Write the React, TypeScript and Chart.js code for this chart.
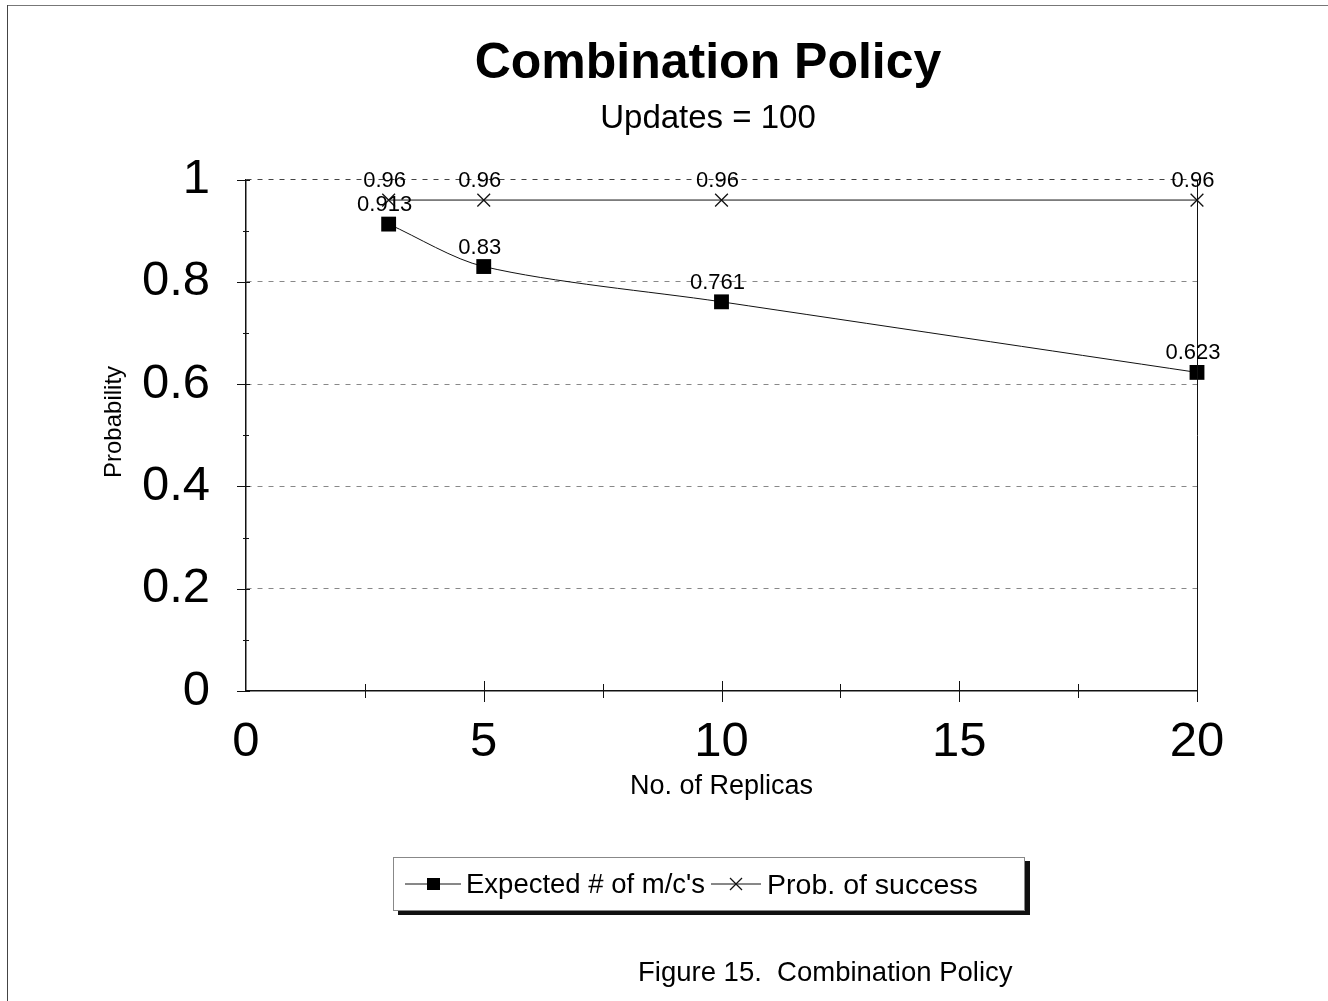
import React, { useEffect, useRef } from "react";
import { Chart, registerables } from "chart.js";

Chart.register(...registerables);

// ---- data ----
const replicas = [3, 5, 10, 20];
const expectedMC = [0.913, 0.83, 0.761, 0.623];
const probSuccess = [0.96, 0.96, 0.96, 0.96];
const expectedLabels = ["0.913", "0.83", "0.761", "0.623"];
const successLabels = ["0.96", "0.96", "0.96", "0.96"];
const seriesNames = ["Expected # of m/c's", "Prob. of success"];
const titleText = "Combination Policy";
const subtitleText = "Updates = 100";
const xTitleText = "No. of Replicas";
const yTitleText = "    Probability";
const captionText = "Figure 15.  Combination Policy";
const xRange = [0, 20];
const yRange = [0, 1];
const xStep = 5;
const yStep = 0.2;

const FONT = "'Liberation Sans', Arial, Helvetica, sans-serif";

const decorPlugin = {
  id: "decor",
  afterDraw(chart: any) {
    const { ctx, scales, chartArea: ca } = chart;
    const x = scales.x;
    const y = scales.y;
    ctx.save();
    ctx.strokeStyle = "#111";
    ctx.lineWidth = 1;
    ctx.setLineDash([]);
    ctx.beginPath();
    // right border at x max
    const rx = Math.round(x.getPixelForValue(xRange[1])) + 0.5;
    ctx.moveTo(rx, y.getPixelForValue(yRange[1]));
    ctx.lineTo(rx, y.getPixelForValue(yRange[0]));
    // y tick marks (major + minor) crossing the axis
    for (let i = 0; i <= 10; i++) {
      const v = i / 10;
      const py = Math.round(y.getPixelForValue(v)) + 0.5;
      const major = i % 2 === 0;
      ctx.moveTo(ca.left - (major ? 9 : 3), py);
      ctx.lineTo(ca.left + (major ? 4 : 3), py);
    }
    // x tick marks crossing the axis
    for (let i = 1; i <= 8; i++) {
      const v = i * 2.5;
      const px = Math.round(x.getPixelForValue(v)) + 0.5;
      const major = i % 2 === 0;
      ctx.moveTo(px, ca.bottom - (major ? 10 : 7));
      ctx.lineTo(px, ca.bottom + (major ? 11 : 7));
    }
    ctx.stroke();

    // data labels
    ctx.fillStyle = "#000";
    ctx.font = `22px ${FONT}`;
    ctx.textAlign = "center";
    ctx.textBaseline = "middle";
    const labelSets = [expectedLabels, successLabels];
    labelSets.forEach((labels, di) => {
      const meta = chart.getDatasetMeta(di);
      meta.data.forEach((pt: any, j: number) => {
        ctx.fillText(labels[j], pt.x - 4, pt.y - 19);
      });
    });
    ctx.restore();
  },
};

function ChartCanvas() {
  const ref = useRef<HTMLCanvasElement | null>(null);
  useEffect(() => {
    if (!ref.current) return;
    const chart = new Chart(ref.current, {
      type: "line",
      data: {
        datasets: [
          {
            label: seriesNames[0],
            data: replicas.map((r, i) => ({ x: r, y: expectedMC[i] })),
            borderColor: "#111",
            backgroundColor: "#000",
            borderWidth: 1,
            pointStyle: "rect",
            pointRadius: 10.5,
            pointBorderWidth: 0,
            tension: 0.3,
            clip: false,
          },
          {
            label: seriesNames[1],
            data: replicas.map((r, i) => ({ x: r, y: probSuccess[i] })),
            borderColor: "#111",
            backgroundColor: "#000",
            borderWidth: 1,
            pointStyle: "crossRot",
            pointRadius: 9,
            pointBorderWidth: 1.3,
            pointBorderColor: "#111",
            tension: 0,
            clip: false,
          },
        ],
      },
      options: {
        animation: false,
        responsive: false,
        maintainAspectRatio: false,
        devicePixelRatio: 1,
        layout: { padding: { left: 88, right: 0, top: 0, bottom: 180 } },
        plugins: {
          legend: { display: false },
          tooltip: { enabled: false },
          title: {
            display: true,
            text: titleText,
            color: "#000",
            font: { family: FONT, size: 50, weight: "bold", lineHeight: 1.2 },
            padding: { top: 34, bottom: 0 },
          },
          subtitle: {
            display: true,
            text: subtitleText,
            color: "#000",
            font: { family: FONT, size: 33, weight: "normal", lineHeight: 1.2 },
            padding: { top: 5, bottom: 41 },
          },
        },
        scales: {
          x: {
            type: "linear",
            min: xRange[0],
            max: xRange[1],
            afterFit: (s: any) => {
              s.height = 130;
            },
            ticks: {
              stepSize: xStep,
              color: "#000",
              font: { family: FONT, size: 49, lineHeight: 1.2 },
              padding: 22,
              maxRotation: 0,
            },
            grid: { display: false, drawTicks: false },
            border: { display: true, color: "#111", width: 1.5 },
            title: {
              display: true,
              text: xTitleText,
              color: "#000",
              font: { family: FONT, size: 27, lineHeight: 1.2 },
              padding: { top: 0, bottom: 18 },
            },
          },
          y: {
            type: "linear",
            position: "left",
            min: yRange[0],
            max: yRange[1],
            afterFit: (s: any) => {
              s.width = 158;
            },
            ticks: {
              stepSize: yStep,
              color: "#000",
              font: { family: FONT, size: 49, lineHeight: 1.2 },
              padding: 36,
              callback: (v: any) => String(Math.round(Number(v) * 10) / 10),
            },
            grid: {
              display: true,
              drawTicks: false,
              color: (c: any) =>
                c.tick && c.tick.value === 0 ? "rgba(0,0,0,0)" : c.tick && c.tick.value === 1 ? "#444" : "#888",
              lineWidth: 1,
            },
            border: { display: true, color: "#111", width: 1.5, dash: [5, 6] },
            title: {
              display: true,
              text: yTitleText,
              color: "#000",
              font: { family: FONT, size: 24, lineHeight: 1.2 },
              padding: { top: 12, bottom: 0 },
            },
          },
          yRight: {
            type: "linear",
            axis: "y",
            position: "right",
            min: yRange[0],
            max: yRange[1],
            display: true,
            afterFit: (s: any) => {
              s.width = 131;
            },
            ticks: { display: false },
            grid: { display: false, drawTicks: false },
            border: { display: false },
            title: { display: false },
          },
        },
      },
      plugins: [decorPlugin],
    } as any);
    return () => chart.destroy();
  }, []);
  return (
    <canvas
      ref={ref}
      width={1328}
      height={1001}
      style={{ position: "absolute", left: 0, top: 0, width: 1328, height: 1001 }}
    />
  );
}

function Legend() {
  const textStyle: React.CSSProperties = { fontFamily: FONT, fontSize: 27.5, color: "#000", whiteSpace: "nowrap" };
  return (
    <div
      style={{
        position: "absolute",
        left: 393,
        top: 857,
        width: 632,
        height: 54,
        border: "1px solid #888",
        background: "#fff",
        boxShadow: "5px 4px 0 #111",
        display: "flex",
        alignItems: "center",
        boxSizing: "border-box",
      }}
    >
      <svg width={56} height={20} style={{ marginLeft: 11 }}>
        <line x1={0} y1={10} x2={56} y2={10} stroke="#111" strokeWidth={1} />
        <rect x={22} y={4} width={13} height={12} fill="#000" />
      </svg>
      <span style={{ ...textStyle, marginLeft: 5 }}>{seriesNames[0]}</span>
      <svg width={50} height={20} style={{ marginLeft: 6 }}>
        <line x1={0} y1={10} x2={50} y2={10} stroke="#111" strokeWidth={1} />
        <line x1={19} y1={4} x2={31} y2={16} stroke="#111" strokeWidth={1.3} />
        <line x1={31} y1={4} x2={19} y2={16} stroke="#111" strokeWidth={1.3} />
      </svg>
      <span style={{ ...textStyle, marginLeft: 6, fontSize: 28.5 }}>{seriesNames[1]}</span>
    </div>
  );
}

export default function App() {
  return (
    <div
      style={{
        position: "absolute",
        left: 0,
        top: 0,
        width: 1328,
        height: 1001,
        background: "#fff",
        overflow: "hidden",
      }}
    >
      <div style={{ position: "absolute", left: 7, top: 5, width: 1321, height: 1, background: "#777" }} />
      <div style={{ position: "absolute", left: 7, top: 5, width: 1, height: 996, background: "#444" }} />
      <ChartCanvas />
      <Legend />
      <div
        style={{
          position: "absolute",
          left: 638,
          top: 956,
          fontFamily: FONT,
          fontSize: 27.5,
          color: "#000",
          whiteSpace: "pre",
        }}
      >
        {captionText}
      </div>
    </div>
  );
}
